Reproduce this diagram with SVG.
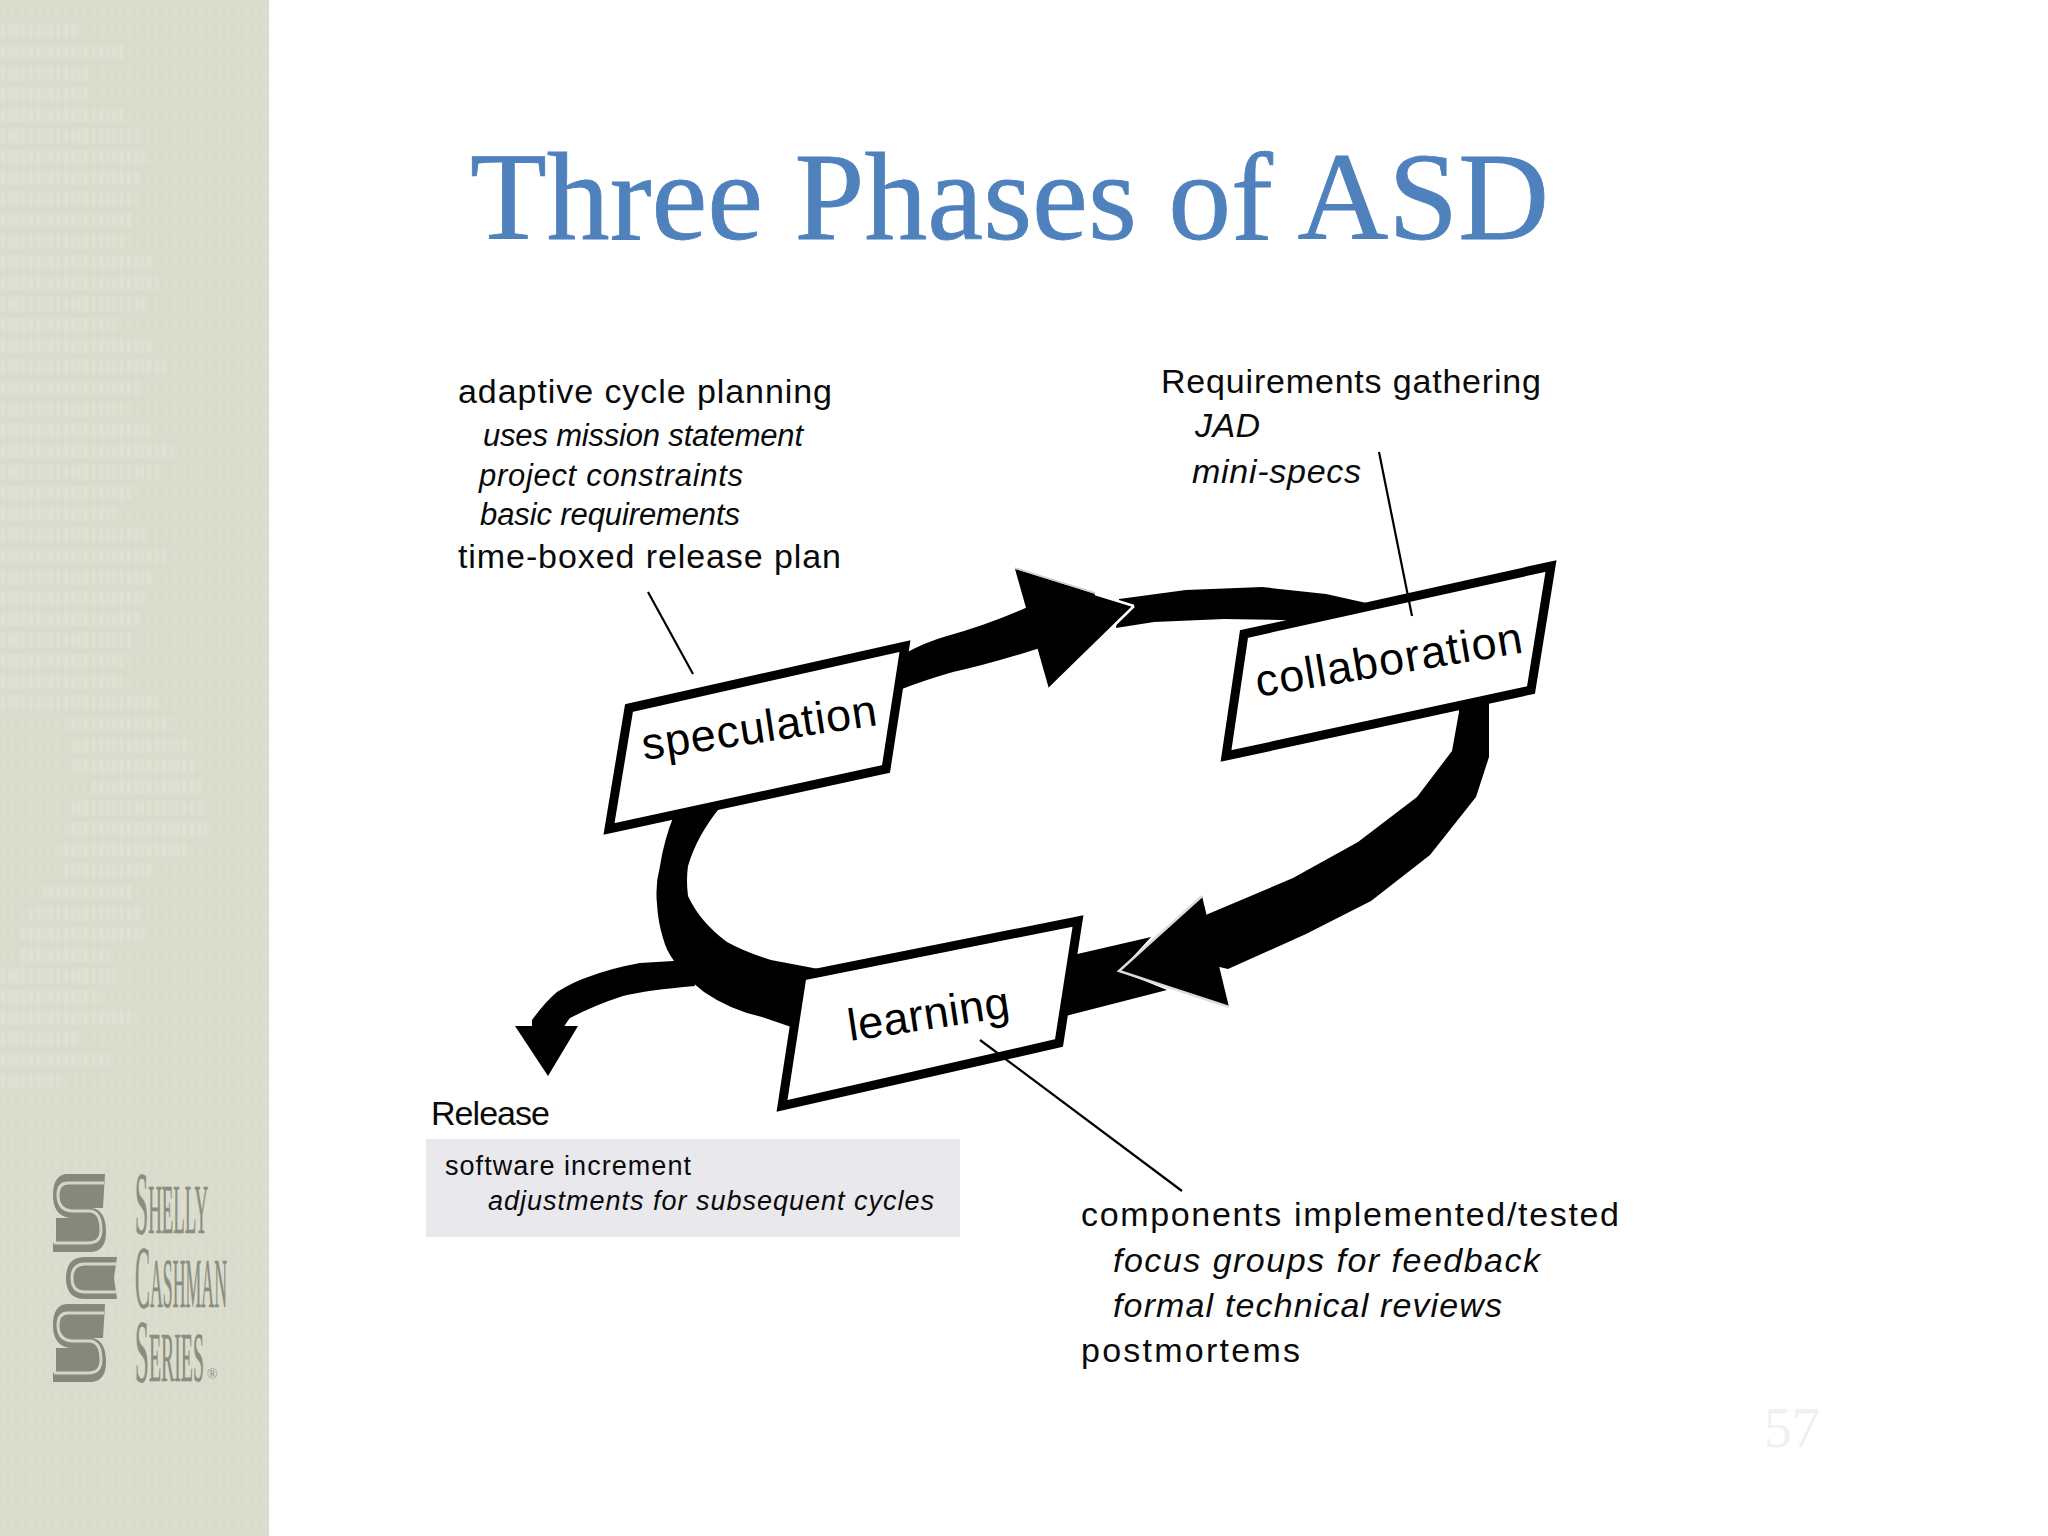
<svg xmlns="http://www.w3.org/2000/svg" width="2048" height="1536" viewBox="0 0 2048 1536">
<style>
.m{font-family:"Liberation Sans",Arial,sans-serif;font-size:34px;fill:#0a0a0a}
.i{font-family:"Liberation Sans",Arial,sans-serif;font-size:31px;font-style:italic;fill:#0a0a0a}
.i2{font-family:"Liberation Sans",Arial,sans-serif;font-size:34px;font-style:italic;fill:#0a0a0a}
.s{font-family:"Liberation Sans",Arial,sans-serif;font-size:27px;fill:#0a0a0a}
.si{font-family:"Liberation Sans",Arial,sans-serif;font-size:27px;font-style:italic;fill:#0a0a0a}
.b{font-family:"Liberation Sans",Arial,sans-serif;font-size:45px;fill:#000}
.box{fill:#fff;stroke:#000;stroke-width:9;stroke-linejoin:miter}
.band{fill:#000}
.lead{stroke:#000;stroke-width:2.2;fill:none}
.logo{font-family:"Liberation Serif",serif;fill:#8b8e7f;stroke:#8b8e7f;stroke-width:.7}
.bk{fill:#85887b}
.pg{fill:none;stroke:#d3d6c6;stroke-width:3}
</style>
<defs>
<pattern id="tex" width="7" height="21" patternUnits="userSpaceOnUse">
<rect x="1" y="3" width="3.5" height="14" fill="#e6e9dd"/>
</pattern>
<pattern id="tex2" width="9" height="21" patternUnits="userSpaceOnUse">
<rect x="2" y="3" width="3" height="14" fill="#e2e5d8"/>
</pattern>
<filter id="soft" x="0" y="0" width="1" height="1"><feGaussianBlur stdDeviation="1.3"/></filter>
<g id="sbook">
<path class="bk" d="M105,1174H68Q53,1174 53,1195Q53,1216 70,1218H56V1243H53V1252H90Q106,1252 106,1232Q106,1210 92,1208H103Z"/>
<path class="pg" d="M104,1183H68Q58,1183 58,1195Q58,1210 72,1211H90Q101,1212 101,1230Q101,1243 88,1243H54"/>
</g>
</defs>
<rect width="2048" height="1536" fill="#fff"/>
<g id="sidebar">
<rect x="0" y="0" width="269" height="1536" fill="#d9dccc"/>
<g filter="url(#soft)">
<rect x="0" y="0" width="269" height="1536" fill="url(#tex2)" opacity=".35"/>
<path fill="url(#tex)" opacity=".45" d="M0,21h80v21h-80zM0,42h125v21h-125zM0,63h90v21h-90zM0,84h90v21h-90zM0,105h125v21h-125zM0,126h140v21h-140zM0,147h145v21h-145zM0,168h140v21h-140zM0,189h135v21h-135zM0,210h130v21h-130zM0,231h125v21h-125zM0,252h155v21h-155zM0,273h160v21h-160zM0,294h148v21h-148zM0,315h120v21h-120zM0,336h155v21h-155zM0,357h165v21h-165zM0,378h142v21h-142zM0,399h128v21h-128zM0,420h150v21h-150zM0,441h172v21h-172zM0,462h160v21h-160zM0,483h135v21h-135zM0,504h118v21h-118zM0,525h148v21h-148zM0,546h168v21h-168zM0,567h155v21h-155zM0,588h145v21h-145zM0,609h138v21h-138zM0,630h133v21h-133zM0,651h128v21h-128zM0,672h122v21h-122zM0,693h158v21h-158zM70,714h100v21h-100zM72,735h118v21h-118zM72,756h126v21h-126zM90,777h110v21h-110zM70,798h135v21h-135zM70,819h140v21h-140zM60,840h130v21h-130zM60,861h95v21h-95zM40,882h90v21h-90zM30,903h110v21h-110zM20,924h125v21h-125zM20,945h90v21h-90zM0,966h120v21h-120zM0,987h100v21h-100zM0,1008h135v21h-135zM0,1029h80v21h-80zM0,1050h110v21h-110zM0,1071h60v21h-60z"/>
</g>
</g>
<g id="logo">
<use href="#sbook"/>
<use href="#sbook" y="130"/>
<path class="bk" d="M117,1257H85Q66,1257 66,1278Q66,1299 85,1299H117L114,1278Z"/>
<path class="pg" d="M117,1264H85Q72,1264 72,1278Q72,1292 85,1292H116"/>
<text class="logo" x="135" y="1233" font-size="70" textLength="73" lengthAdjust="spacingAndGlyphs"><tspan font-size="88">S</tspan>HELLY</text>
<text class="logo" x="135" y="1307" font-size="70" textLength="92" lengthAdjust="spacingAndGlyphs"><tspan font-size="88">C</tspan>ASHMAN</text>
<text class="logo" x="135" y="1381" font-size="70" textLength="69" lengthAdjust="spacingAndGlyphs"><tspan font-size="88">S</tspan>ERIES</text>
<text class="logo" x="207" y="1379" font-size="14" style="stroke-width:0">®</text>
</g>
<text id="title" x="470" y="239" font-family="'Liberation Serif',serif" font-size="125" fill="#4f81bd" stroke="#4f81bd" stroke-width=".8" textLength="1079" lengthAdjust="spacingAndGlyphs">Three Phases of ASD</text>
<g id="connectors">
<path class="band" d="M880,666L902,655Q925,642 947,636Q990,624 1030,606L1040,648Q990,664 953,672Q925,680 902,689L880,700Z"/>
<path class="band" d="M1119,599L1186,590L1262,587L1326,594L1380,606L1370,640Q1320,622 1282,620L1224,619L1154,622L1116,628Z"/>
<path class="band" d="M1459,690L1489,690V757L1476,797L1430,855L1371,901L1306,934L1228,969L1190,960L1190,925L1208,914L1293,878L1358,842L1417,797L1452,751L1459,712Z"/>
<path class="band" d="M1151,937L1060,958L1050,1020L1167,990L1120,971Z"/>
<path class="band" d="M674,815Q664,840 660,866Q655,885 657,904Q658,922 663,938Q666,950 674,961Q686,978 704,992Q730,1010 762,1017L800,1030L850,975L771,960Q745,952 727,942Q700,922 688,896Q686,880 688,866Q697,835 722,805Z"/>
<path class="band" d="M690,960L640,963Q612,968 588,977Q573,982 557,992Q545,1002 532,1020V1030H562Q568,1020 570,1018Q595,1005 623,996Q647,990 695,986Z"/>
<polygon class="band" points="1015,569 1134,606 1049,689"/>
<path fill="none" stroke="#fff" stroke-width="2.5" d="M1134,606L1049,689M1134,606L1095,594"/>
<path fill="none" stroke="#c9c9c9" stroke-width="1.5" d="M1015,568L1095,593"/>
<polygon class="band" points="1202,896 1119,971 1229,1007"/>
<path fill="none" stroke="#dcdcdc" stroke-width="2.5" d="M1202,896L1119,971L1229,1007"/>
<polygon class="band" points="515,1026 578,1026 548,1076"/>
</g>
<g id="speculation">
<polygon class="box" points="629,708 905,646 886,769 609,829"/>
<text class="b" transform="translate(644,760) rotate(-8.5)" textLength="237">speculation</text>
</g>
<g id="collaboration">
<polygon class="box" points="1244,634 1551,566 1531,690 1226,756"/>
<text class="b" transform="translate(1258,697) rotate(-9.5)" textLength="270">collaboration</text>
</g>
<g id="learning">
<polygon class="box" points="802,976 1078,921 1059,1043 782,1106"/>
<text class="b" transform="translate(850,1041) rotate(-8.5)" textLength="163">learning</text>
</g>
<g id="leaders">
<line class="lead" x1="648" y1="592" x2="693" y2="674"/>
<line class="lead" x1="1379" y1="452" x2="1412" y2="616"/>
<line class="lead" x1="980" y1="1040" x2="1182" y2="1191"/>
</g>
<g id="note-speculation">
<text class="m" x="458" y="403" textLength="374">adaptive cycle planning</text>
<text class="i" x="483" y="446" textLength="320">uses mission statement</text>
<text class="i" x="479" y="486" textLength="264">project constraints</text>
<text class="i" x="480" y="525" textLength="260">basic requirements</text>
<text class="m" x="458" y="568" textLength="383">time-boxed release plan</text>
</g>
<g id="note-collaboration">
<text class="m" x="1161" y="393" textLength="380">Requirements gathering</text>
<text class="i2" x="1195" y="437" textLength="65">JAD</text>
<text class="i2" x="1192" y="483" textLength="169">mini-specs</text>
</g>
<g id="release">
<text class="m" x="431" y="1125" textLength="119">Release</text>
<rect x="426" y="1139" width="534" height="98" fill="#e9e8ec"/>
<text class="s" x="445" y="1175" textLength="246">software increment</text>
<text class="si" x="488" y="1210" textLength="446">adjustments for subsequent cycles</text>
</g>
<g id="note-learning">
<text class="m" x="1081" y="1226" textLength="538">components implemented/tested</text>
<text class="i2" x="1113" y="1272" textLength="427">focus groups for feedback</text>
<text class="i2" x="1113" y="1317" textLength="389">formal technical reviews</text>
<text class="m" x="1081" y="1362" textLength="219">postmortems</text>
</g>
<text id="page" x="1764" y="1447" font-family="'Liberation Serif',serif" font-size="56" fill="#f0f0ee">57</text>
</svg>
